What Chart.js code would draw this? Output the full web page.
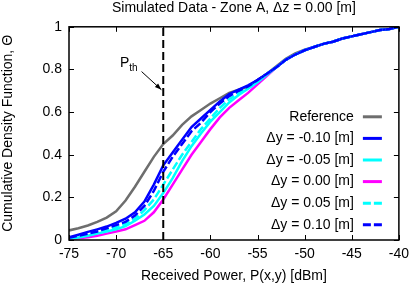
<!DOCTYPE html>
<html>
<head>
<meta charset="utf-8">
<script src="https://cdn.jsdelivr.net/npm/chart.js@4"></script>
<style>
  html, body { margin: 0; padding: 0; background: #fff; }
  #wrap { width: 415px; height: 285px; }
</style>
</head>
<body>
<div id="wrap"><canvas id="cdf"></canvas></div>
<script>
const powerDbm = [-75, -74, -73, -72, -71, -70, -69, -68, -67, -66, -65, -64, -63, -62, -61, -60, -59, -58,
  -57, -56, -55, -54, -53, -52, -51, -50, -49, -48, -47, -46, -45, -44, -43, -42, -41, -40];

const cdfReference = [0.045, 0.055, 0.068, 0.085, 0.105, 0.135, 0.185, 0.25, 0.32, 0.39, 0.45, 0.49, 0.54, 0.58, 0.61, 0.64, 0.665, 0.69,
  0.705, 0.72, 0.75, 0.78, 0.815, 0.85, 0.875, 0.893, 0.905, 0.92, 0.93, 0.945, 0.955, 0.965, 0.975, 0.985, 0.99, 1.0];
const cdfMinus010 = [0.013, 0.025, 0.038, 0.05, 0.063, 0.08, 0.10, 0.13, 0.18, 0.26, 0.35, 0.41, 0.47, 0.53, 0.57, 0.61, 0.65, 0.685,
  0.705, 0.725, 0.75, 0.78, 0.81, 0.845, 0.87, 0.89, 0.905, 0.92, 0.93, 0.945, 0.955, 0.965, 0.975, 0.985, 0.99, 1.0];
const cdfMinus005 = [0.006, 0.012, 0.02, 0.03, 0.04, 0.05, 0.065, 0.09, 0.12, 0.16, 0.22, 0.29, 0.37, 0.44, 0.50, 0.555, 0.60, 0.645,
  0.68, 0.71, 0.74, 0.775, 0.81, 0.845, 0.87, 0.89, 0.905, 0.92, 0.93, 0.945, 0.955, 0.965, 0.975, 0.985, 0.99, 1.0];
const cdfZero = [0.004, 0.008, 0.013, 0.02, 0.03, 0.04, 0.05, 0.07, 0.09, 0.13, 0.19, 0.26, 0.33, 0.40, 0.46, 0.52, 0.575, 0.62,
  0.655, 0.69, 0.73, 0.77, 0.81, 0.845, 0.87, 0.89, 0.905, 0.92, 0.93, 0.945, 0.955, 0.965, 0.975, 0.985, 0.99, 1.0];
const cdfPlus005 = [0.008, 0.015, 0.025, 0.035, 0.048, 0.06, 0.075, 0.10, 0.14, 0.19, 0.26, 0.33, 0.40, 0.46, 0.52, 0.57, 0.62, 0.66,
  0.69, 0.715, 0.745, 0.78, 0.81, 0.845, 0.87, 0.89, 0.905, 0.92, 0.93, 0.945, 0.955, 0.965, 0.975, 0.985, 0.99, 1.0];
const cdfPlus010 = [0.01, 0.02, 0.03, 0.04, 0.055, 0.07, 0.085, 0.115, 0.16, 0.23, 0.32, 0.39, 0.45, 0.51, 0.55, 0.60, 0.64, 0.675,
  0.70, 0.72, 0.75, 0.78, 0.81, 0.845, 0.87, 0.89, 0.905, 0.92, 0.93, 0.945, 0.955, 0.965, 0.975, 0.985, 0.99, 1.0];

const seriesLabels = ["Reference", "\u0394y = -0.10 [m]", "\u0394y = -0.05 [m]", "\u0394y = 0.00 [m]", "\u0394y = 0.05 [m]", "\u0394y = 0.10 [m]"];
const thresholdPower = -65;
const xTicks = [-75, -70, -65, -60, -55, -50, -45, -40];
const yTicks = [0, 0.2, 0.4, 0.6, 0.8, 1];

const FONT = "'Liberation Sans', Arial, sans-serif";
const FSIZE = 14;

function toPoints(ys) {
  return powerDbm.map((x, i) => ({ x: x, y: ys[i] }));
}

function series(label, ys, color, dash, order) {
  return {
    label: label,
    data: toPoints(ys),
    borderColor: color,
    backgroundColor: color,
    borderWidth: 2.5,
    borderDash: dash,
    pointRadius: 0,
    tension: 0,
    order: order,
  };
}

// inner ticks, frame, P_th arrow and the legend inside the plot
const gnuplotLook = {
  id: "gnuplotLook",
  afterDatasetsDraw(chart) {
    const ctx = chart.ctx;
    const a = chart.chartArea;
    const xs = chart.scales.x;
    const ys = chart.scales.y;
    ctx.save();
    ctx.strokeStyle = "#000";
    ctx.lineWidth = 1;
    xTicks.forEach(v => {
      const px = Math.round(xs.getPixelForValue(v)) + 0.5;
      ctx.beginPath();
      ctx.moveTo(px, a.bottom); ctx.lineTo(px, a.bottom - 5);
      ctx.moveTo(px, a.top); ctx.lineTo(px, a.top + 5);
      ctx.stroke();
    });
    yTicks.forEach(v => {
      const py = Math.round(ys.getPixelForValue(v)) + 0.5;
      ctx.beginPath();
      ctx.moveTo(a.left, py); ctx.lineTo(a.left + 5, py);
      ctx.moveTo(a.right, py); ctx.lineTo(a.right - 5, py);
      ctx.stroke();
    });
    ctx.lineWidth = 1.5;
    ctx.strokeRect(a.left, a.top, a.right - a.left, a.bottom - a.top);

    // P_th label and arrow
    const tx = xs.getPixelForValue(-69.6);
    const ty = ys.getPixelForValue(0.83);
    ctx.fillStyle = "#000";
    ctx.textBaseline = "middle";
    ctx.textAlign = "left";
    ctx.font = FSIZE + "px " + FONT;
    ctx.fillText("P", tx, ty);
    const pw = ctx.measureText("P").width;
    ctx.font = "10px " + FONT;
    ctx.fillText("th", tx + pw, ty + 5);
    const x0 = xs.getPixelForValue(-67.3), y0 = ys.getPixelForValue(0.79);
    const x1 = xs.getPixelForValue(-65.2), y1 = ys.getPixelForValue(0.705);
    ctx.lineWidth = 1;
    ctx.beginPath();
    ctx.moveTo(x0, y0); ctx.lineTo(x1, y1);
    ctx.stroke();
    const ang = Math.atan2(y1 - y0, x1 - x0);
    ctx.beginPath();
    ctx.moveTo(x1, y1);
    ctx.lineTo(x1 - 7 * Math.cos(ang - 0.35), y1 - 7 * Math.sin(ang - 0.35));
    ctx.lineTo(x1 - 7 * Math.cos(ang + 0.35), y1 - 7 * Math.sin(ang + 0.35));
    ctx.closePath();
    ctx.fill();

    // legend
    ctx.font = FSIZE + "px " + FONT;
    ctx.textAlign = "right";
    const textRight = a.right - 45;
    const swatchL = a.right - 36, swatchR = a.right - 17;
    let rowY = a.top + 90;
    chart.data.datasets.forEach(ds => {
      if (!ds.label) return;
      ctx.fillStyle = "#000";
      ctx.fillText(ds.label, textRight, rowY);
      ctx.strokeStyle = ds.borderColor;
      ctx.lineWidth = 3;
      ctx.setLineDash(ds.borderDash || []);
      ctx.beginPath();
      ctx.moveTo(swatchL, rowY); ctx.lineTo(swatchR, rowY);
      ctx.stroke();
      ctx.setLineDash([]);
      rowY += 21.6;
    });
    ctx.restore();
  }
};

const datasets = [
  series(seriesLabels[0], cdfReference, "#6e6e6e", [], 6),
  series(seriesLabels[1], cdfMinus010, "#0000ff", [], 3),
  series(seriesLabels[2], cdfMinus005, "#00ffff", [], 4),
  series(seriesLabels[3], cdfZero, "#ff00ff", [], 5),
  series(seriesLabels[4], cdfPlus005, "#00ffff", [8, 3], 2),
  series(seriesLabels[5], cdfPlus010, "#0000ff", [8, 3], 1),
  {
    label: "",
    data: [{ x: thresholdPower, y: 0 }, { x: thresholdPower, y: 1 }],
    borderColor: "#000",
    borderWidth: 2,
    borderDash: [8, 4],
    pointRadius: 0,
    order: 0,
  },
];

new Chart(document.getElementById("cdf"), {
  type: "line",
  data: { datasets: datasets },
  options: {
    responsive: true,
    maintainAspectRatio: false,
    animation: false,
    layout: { padding: { left: 0, right: 11, top: 0, bottom: 0 } },
    plugins: {
      legend: { display: false },
      tooltip: { enabled: false },
      title: {
        display: true,
        fullSize: false,
        text: "Simulated Data - Zone A, \u0394z = 0.00 [m]",
        color: "#000",
        font: { family: FONT, size: FSIZE, weight: "normal", lineHeight: 1.2 },
        padding: { top: 0, bottom: 10 },
      },
    },
    scales: {
      x: {
        type: "linear",
        min: -75,
        max: -40,
        afterFit: (s) => { s.height = 45; },
        afterBuildTicks: (s) => { s.ticks = xTicks.map(v => ({ value: v })); },
        grid: { display: false, drawTicks: false },
        border: { display: false },
        ticks: { color: "#000", padding: 6, font: { family: FONT, size: FSIZE }, maxRotation: 0, callback: (v) => String(v) },
        title: {
          display: true,
          text: "Received Power, P(x,y) [dBm]",
          color: "#000",
          font: { family: FONT, size: FSIZE },
          padding: { top: 2, bottom: 0 },
        },
      },
      y: {
        min: 0,
        max: 1,
        afterFit: (s) => { s.width = 69; },
        afterBuildTicks: (s) => { s.ticks = yTicks.map(v => ({ value: v })); },
        grid: { display: false, drawTicks: false },
        border: { display: false },
        ticks: { color: "#000", padding: 7, font: { family: FONT, size: FSIZE }, callback: (v) => String(v) },
        title: {
          display: true,
          text: "Cumulative Density Function, \u0398",
          color: "#000",
          font: { family: FONT, size: FSIZE },
          padding: { top: 0, bottom: 0 },
        },
      },
    },
  },
  plugins: [gnuplotLook],
});
</script>
</body>
</html>
